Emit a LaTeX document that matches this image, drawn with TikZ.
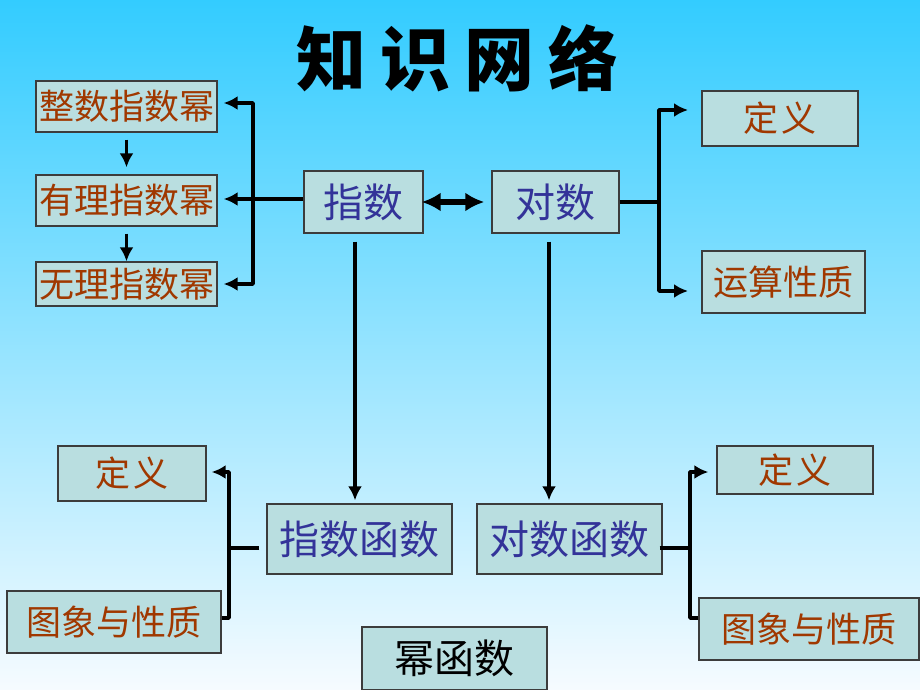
\documentclass[tikz,border=0pt]{standalone}
\usepackage{fontspec}
\newfontfamily\cjk{Noto Sans CJK SC}
\usetikzlibrary{arrows.meta}
\definecolor{boxfill}{RGB}{185,222,224}
\definecolor{boxedge}{RGB}{60,60,60}
\definecolor{txtbrown}{RGB}{160,56,0}
\definecolor{txtnavy}{RGB}{51,51,153}
\definecolor{bgtop}{RGB}{51,204,255}
\definecolor{bgbot}{RGB}{246,251,255}
\tikzset{
  box/.style={draw=boxedge, line width=1.4pt, fill=boxfill, inner sep=0pt, anchor=center},
  brn/.style={box, text=txtbrown, font=\cjk\fontsize{35}{35}\selectfont},
  nav/.style={box, text=txtnavy, font=\cjk\fontsize{40}{40}\selectfont},
  conn/.style={line width=3.8pt, draw=black},
  tip/.style={-{Latex[length=14pt,width=14pt]}},
  tips/.style={{Latex[length=14pt,width=14pt]}-{Latex[length=14pt,width=14pt]}}
}
\begin{document}
\begin{tikzpicture}[x=1pt,y=-1pt]
\useasboundingbox (0,0) rectangle (920,690);
\shade[top color=bgtop, bottom color=bgbot] (0,0) rectangle (920,690);
\node[font=\cjk\bfseries\fontsize{70}{70}\selectfont, text=black] (title) at (457,58) {知\hspace{14pt}识\hspace{14pt}网\hspace{14pt}络};
% left column
\node[brn, minimum width=181pt, minimum height=51pt] (zs) at (126.5,106.5) {整数指数幂};
\node[brn, minimum width=181pt, minimum height=51pt] (yl) at (126.5,200.5) {有理指数幂};
\node[brn, minimum width=181pt, minimum height=44pt] (wl) at (126.5,284) {无理指数幂};
% centre
\node[nav, minimum width=119pt, minimum height=62pt] (zhi) at (363.5,202) {指数};
\node[nav, minimum width=127pt, minimum height=62pt] (dui) at (555.5,202) {对数};
% right top
\node[brn, minimum width=156pt, minimum height=55pt] (dy1) at (780,118.5) {定\hspace{3pt}义};
\node[brn, minimum width=163pt, minimum height=62pt] (ys) at (783.5,282) {运算性质};
% functions
\node[nav, minimum width=185pt, minimum height=70pt] (zf) at (359.5,539) {指数函数};
\node[nav, minimum width=185pt, minimum height=70pt] (df) at (569.5,539) {对数函数};
% bottom left
\node[brn, minimum width=148pt, minimum height=55pt] (dy2) at (132,473.5) {定\hspace{3pt}义};
\node[brn, minimum width=214pt, minimum height=62pt] (tx1) at (114,622) {图象与性质};
% bottom right
\node[brn, minimum width=156pt, minimum height=48pt] (dy3) at (795,470) {定\hspace{3pt}义};
\node[brn, minimum width=220pt, minimum height=62pt] (tx2) at (809,629) {图象与性质};
% power function
\node[box, text=black, font=\cjk\fontsize{40}{40}\selectfont, minimum width=185pt, minimum height=63pt] (mf) at (454.5,658.5) {幂函数};

% coordinates for branch lines
\coordinate (bl) at (253,199);
\coordinate (br) at (659,202);
\coordinate (fl) at (229,548);
\coordinate (fr) at (690,548);

% 指数 -> three kinds of powers
\draw[conn] (zhi.west |- bl) -- (bl);
\draw[conn, tip] (bl) -- ([xshift=6pt]yl.east |- bl);
\draw[conn, tips, line join=round] ([xshift=6pt]zs.east |- 0,103) -- (bl |- 0,103) -- (bl |- wl.east) -- ([xshift=6pt]wl.east);
\draw[conn, tip] ([yshift=-7pt]zs.south) -- ([yshift=7pt]yl.north);
\draw[conn, tip] ([yshift=-7pt]yl.south) -- ([yshift=0pt]wl.north);

% 指数 <-> 对数
\draw[line width=5.5pt, {Latex[length=19pt,width=19pt]}-{Latex[length=19pt,width=19pt]}] ([xshift=-2pt]zhi.east) -- ([xshift=-7pt]dui.west);

% 对数 -> definitions
\coordinate (a1) at (688,110);
\coordinate (a2) at (688,291);
\draw[conn] (dui.east) -- (br);
\draw[conn, tips, line join=round] (a1) -- (br |- a1) -- (br |- a2) -- (a2);

% down to functions
\draw[conn, tip] ([xshift=-8.5pt,yshift=-8pt]zhi.south) -- ([xshift=-4.5pt,yshift=3pt]zf.north);
\draw[conn, tip] ([xshift=-6.5pt,yshift=-8pt]dui.south) -- ([xshift=-20.5pt,yshift=3pt]df.north);

% 指数函数 -> left boxes
\draw[conn] ([xshift=-7pt]zf.west |- fl) -- (fl);
\draw[conn, tip, line join=round] (tx1.east |- 0,618) -- (fl |- 0,618) -- (fl |- 0,472) -- ([xshift=5pt]dy2.east |- 0,472);

% 对数函数 -> right boxes
\draw[conn] ([xshift=-3pt]df.east |- fr) -- (fr);
\draw[conn, tip, line join=round] (tx2.west |- 0,618) -- (fr |- 0,618) -- (fr |- 0,472) -- ([xshift=-8pt]dy3.west |- 0,472);
\end{tikzpicture}
\end{document}
